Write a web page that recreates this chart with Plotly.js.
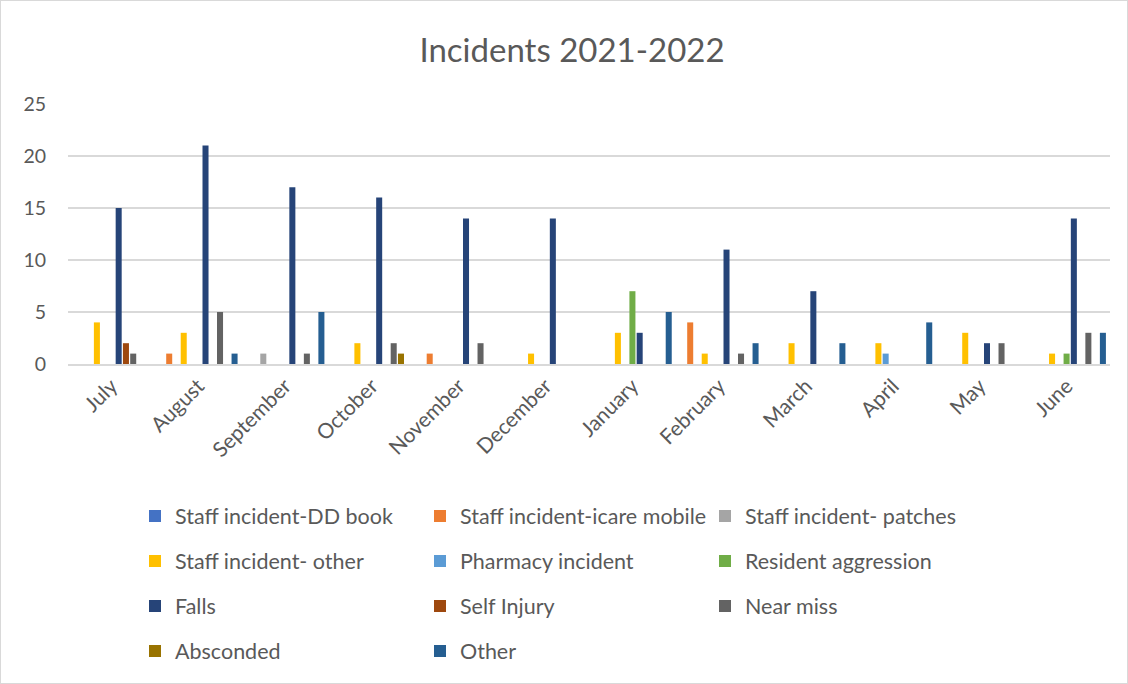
<!DOCTYPE html>
<html>
<head>
<meta charset="utf-8">
<script src="https://cdn.plot.ly/plotly-3.0.1.min.js"></script>
<style>
  html, body { margin: 0; padding: 0; background: #fff; }
  #chart { width: 1126px; height: 682px; border: 1px solid #d9d9d9; }
</style>
</head>
<body>
<div id="chart"></div>
<script>
const months = ['July','August','September','October','November','December','January','February','March','April','May','June'];

const ddBook       = [0,0,0,0,0,0,0,0,0,0,0,0];
const icareMobile  = [0,1,0,0,1,0,0,4,0,0,0,0];
const patches      = [0,0,1,0,0,0,0,0,0,0,0,0];
const staffOther   = [4,3,0,2,0,1,3,1,2,2,3,1];
const pharmacy     = [0,0,0,0,0,0,0,0,0,1,0,0];
const residentAggr = [0,0,0,0,0,0,7,0,0,0,0,1];
const falls        = [15,21,17,16,14,14,3,11,7,0,2,14];
const selfInjury   = [2,0,0,0,0,0,0,0,0,0,0,0];
const nearMiss     = [1,5,1,2,2,0,0,1,0,0,2,3];
const absconded    = [0,0,0,1,0,0,0,0,0,0,0,0];
const other        = [0,1,5,0,0,0,5,2,2,4,0,3];

const seriesNames = ['Staff incident-DD book','Staff incident-icare mobile','Staff incident- patches',
  'Staff incident- other','Pharmacy incident','Resident aggression','Falls','Self Injury','Near miss',
  'Absconded','Other'];
const seriesValues = [ddBook, icareMobile, patches, staffOther, pharmacy, residentAggr, falls, selfInjury, nearMiss, absconded, other];
const seriesColors = ['#4472C4','#ED7D31','#A5A5A5','#FFC000','#5B9BD5','#70AD47','#264478','#9E480E','#636363','#997300','#255E91'];
const legendIds = ['legend','legend','legend','legend2','legend2','legend2','legend3','legend3','legend3','legend4','legend4'];

const FONT = 'Lato, "Open Sans", sans-serif';
const GREY = '#595959';

const traces = seriesNames.map((name, i) => ({
  type: 'bar',
  name: name,
  x: months,
  y: seriesValues[i],
  marker: { color: seriesColors[i], line: { width: 0 } },
  legend: legendIds[i],
  hoverinfo: 'x+y+name'
}));

function legendRow(yPx) {
  return {
    orientation: 'h',
    x: 134 / 1126, xanchor: 'left', xref: 'container',
    y: 1 - yPx / 682, yanchor: 'middle', yref: 'container',
    font: { family: FONT, size: 21.5, color: GREY },
    entrywidth: 240, entrywidthmode: 'pixels',
    bgcolor: 'rgba(0,0,0,0)',
    itemclick: false, itemdoubleclick: false,
    traceorder: 'normal'
  };
}

const layout = {
  width: 1126, height: 682,
  paper_bgcolor: '#ffffff',
  plot_bgcolor: '#ffffff',
  font: { family: FONT, color: GREY },
  title: { text: 'Incidents 2021-2022', font: { family: FONT, size: 33, color: GREY },
           x: 571 / 1126, xanchor: 'center', xref: 'container',
           y: 1 - 49 / 682, yanchor: 'middle' },
  margin: { l: 67, r: 17, t: 103, b: 319 },
  barmode: 'group',
  bargap: 0.08,
  bargroupgap: 0.17,
  showlegend: true,
  xaxis: {
    type: 'category',
    tickangle: -45,
    tickfont: { family: FONT, size: 21, color: GREY },
    showgrid: false,
    showline: true, linecolor: '#d9d9d9', linewidth: 1.5,
    ticks: '', zeroline: false
  },
  yaxis: {
    range: [0, 25],
    dtick: 5,
    tickfont: { family: FONT, size: 19.5, color: GREY },
    showgrid: true, gridcolor: '#d9d9d9', gridwidth: 1.5,
    zeroline: false, showline: false, ticks: '',
    ticklabelstandoff: 21
  },
  legend: legendRow(515),
  legend2: legendRow(560),
  legend3: legendRow(605),
  legend4: legendRow(650)
};

Plotly.newPlot('chart', traces, layout, { displayModeBar: false, staticPlot: true });
</script>
</body>
</html>
